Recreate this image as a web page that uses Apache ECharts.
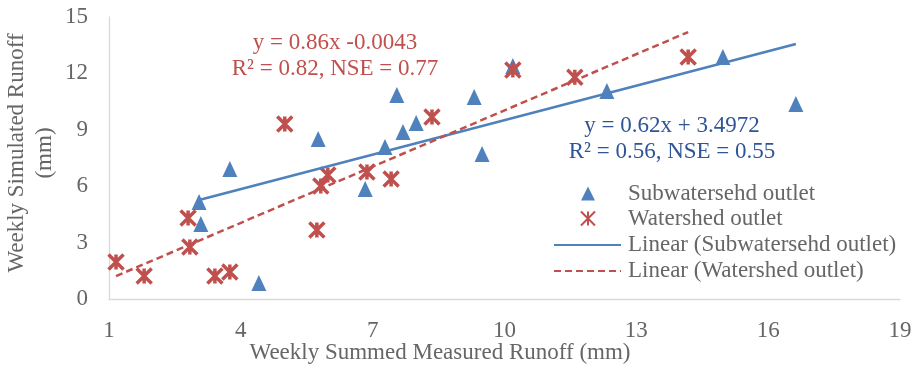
<!DOCTYPE html>
<html>
<head>
<meta charset="utf-8">
<script src="https://cdn.jsdelivr.net/npm/echarts@6/dist/echarts.min.js"></script>
<style>
  html, body { margin: 0; padding: 0; background: #fff; }
  #chart { width: 921px; height: 370px; }
</style>
</head>
<body>
<div id="chart"></div>
<script>
// measured (x) vs simulated (y) weekly runoff, mm
const subX = [3.05, 3.09, 3.75, 4.41, 5.76, 6.83, 7.28, 7.55, 7.69, 7.99, 9.31, 9.49, 10.19, 12.33, 14.97, 16.63];
const subY = [5.16, 3.99, 6.91, 0.85, 8.51, 5.85, 8.08, 10.85, 8.88, 9.36, 10.74, 7.71, 12.40, 11.06, 12.87, 10.37];
const wsX = [1.16, 1.80, 2.80, 2.84, 3.41, 3.75, 5.00, 5.73, 5.82, 5.98, 6.87, 7.42, 8.35, 10.19, 11.60, 14.18];
const wsY = [1.97, 1.22, 4.31, 2.77, 1.22, 1.44, 9.31, 3.67, 6.01, 6.60, 6.76, 6.38, 9.68, 12.18, 11.80, 12.87];

// trend line end points as drawn
const subFitX = [3.05, 16.63];
const subFitY = [5.27, 13.56];
const wsFitX = [1.16, 14.18];
const wsFitY = [1.22, 14.20];

const names = ['Subwatersehd outlet', 'Watershed outlet', 'Linear (Subwatersehd outlet)', 'Linear (Watershed outlet)'];
const subEq = ['y = 0.62x + 3.4972', 'R² = 0.56, NSE = 0.55'];
const wsEq = ['y = 0.86x -0.0043', 'R² = 0.82, NSE = 0.77'];

const FONT = "'Liberation Serif', 'Times New Roman', serif";
const GRAY = '#666666';
const BLUE = '#4F81BD';
const RED = '#C0504D';

function pairs(xs, ys) {
  return xs.map((x, i) => [x, ys[i]]);
}

const chart = echarts.init(document.getElementById('chart'));

const options = {
  animation: false,
  textStyle: { fontFamily: FONT },
  grid: { left: 109, right: 21, top: 17, bottom: 71 },
  xAxis: {
    type: 'value',
    min: 1,
    max: 19,
    interval: 3,
    splitLine: { show: false },
    axisTick: { show: false },
    axisLine: { show: true, onZero: false, lineStyle: { color: '#d9d9d9', width: 1.3 } },
    axisLabel: { margin: 20, fontSize: 23, color: GRAY, fontFamily: FONT }
  },
  yAxis: {
    type: 'value',
    min: 0,
    max: 15,
    interval: 3,
    splitLine: { show: false },
    axisTick: { show: false },
    axisLine: { show: true, onZero: false, lineStyle: { color: '#d9d9d9', width: 1.3 } },
    axisLabel: { margin: 21, fontSize: 23, color: GRAY, fontFamily: FONT }
  },
  legend: [
    {
      orient: 'vertical',
      left: 580,
      top: 181,
      padding: 0,
      itemWidth: 14,
      itemHeight: 14,
      itemGap: 0,
      data: [names[0], names[1]],
      textStyle: { fontSize: 23, color: GRAY, fontFamily: FONT, lineHeight: 25, padding: [0, 0, 0, 28] }
    },
    {
      orient: 'vertical',
      left: 553,
      top: 232,
      padding: 0,
      itemWidth: 67,
      itemHeight: 14,
      itemGap: 0,
      itemStyle: { opacity: 0 },
      data: [names[2], names[3]],
      textStyle: { fontSize: 23, color: GRAY, fontFamily: FONT, lineHeight: 26, padding: [0, 0, 0, 2] }
    }
  ],
  series: [
    {
      name: names[0],
      type: 'scatter',
      symbol: 'triangle',
      symbolSize: [15, 16],
      itemStyle: { color: BLUE, opacity: 1 },
      data: pairs(subX, subY)
    },
    {
      name: names[1],
      type: 'scatter',
      symbol: 'path://M0,0L10,10M10,0L0,10M5,0L5,10',
      symbolSize: 15,
      itemStyle: { color: RED, borderColor: RED, borderWidth: 3.5, opacity: 1 },
      data: pairs(wsX, wsY)
    },
    {
      name: names[2],
      type: 'line',
      symbol: 'none',
      lineStyle: { color: BLUE, width: 2.5 },
      itemStyle: { color: BLUE },
      data: pairs(subFitX, subFitY)
    },
    {
      name: names[3],
      type: 'line',
      symbol: 'none',
      lineStyle: { color: RED, width: 2.5, type: [7, 4] },
      itemStyle: { color: RED },
      data: pairs(wsFitX, wsFitY)
    }
  ],
  graphic: [
    {
      type: 'text', x: 335, y: 56,
      style: { text: wsEq.join('\n'), fill: RED, font: '23px ' + FONT, lineHeight: 26, align: 'center', verticalAlign: 'middle' }
    },
    {
      type: 'text', x: 672, y: 139,
      style: { text: subEq.join('\n'), fill: '#2F5597', font: '23px ' + FONT, lineHeight: 26, align: 'center', verticalAlign: 'middle' }
    },
    {
      type: 'text', x: 440, y: 353,
      style: { text: 'Weekly Summed Measured Runoff (mm)', fill: GRAY, font: '23px ' + FONT, align: 'center', verticalAlign: 'middle' }
    },
    {
      type: 'text', x: 31, y: 153, rotation: Math.PI / 2,
      style: { text: 'Weekly Simulated Runoff\n(mm)', fill: GRAY, font: '23px ' + FONT, lineHeight: 28, align: 'center', verticalAlign: 'middle' }
    }
  ]
};

chart.setOption(options);
</script>
</body>
</html>
